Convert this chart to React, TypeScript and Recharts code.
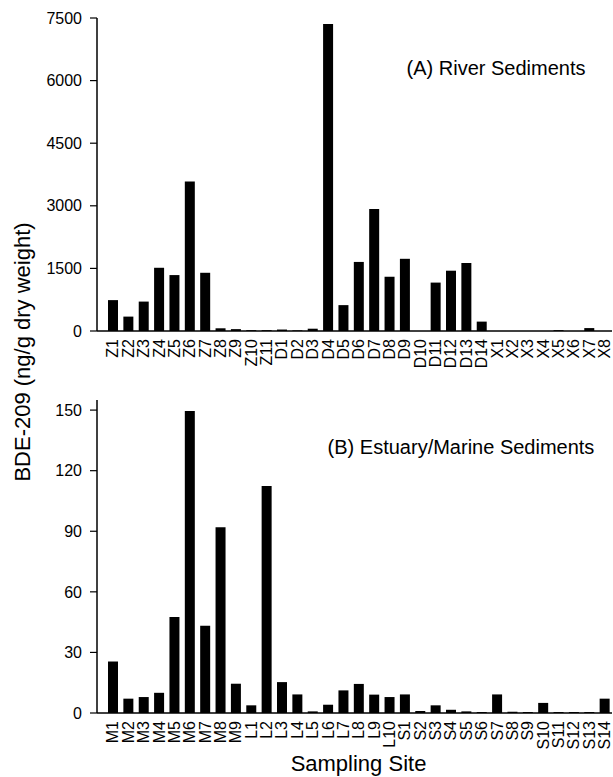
import { BarChart, Bar, XAxis, YAxis } from 'recharts'

const riverSites = [
  'Z1', 'Z2', 'Z3', 'Z4', 'Z5', 'Z6', 'Z7', 'Z8', 'Z9', 'Z10', 'Z11',
  'D1', 'D2', 'D3', 'D4', 'D5', 'D6', 'D7', 'D8', 'D9', 'D10', 'D11', 'D12', 'D13', 'D14',
  'X1', 'X2', 'X3', 'X4', 'X5', 'X6', 'X7', 'X8',
]
const riverValues = [
  740, 345, 705, 1515, 1340, 3580, 1395, 65, 45, 20, 20,
  35, 15, 55, 7355, 620, 1655, 2925, 1300, 1730, 0, 1160, 1445, 1630, 225,
  0, 0, 0, 0, 20, 0, 70, 0,
]
const riverTicks = [0, 1500, 3000, 4500, 6000, 7500]

const marineSites = [
  'M1', 'M2', 'M3', 'M4', 'M5', 'M6', 'M7', 'M8', 'M9',
  'L1', 'L2', 'L3', 'L4', 'L5', 'L6', 'L7', 'L8', 'L9', 'L10',
  'S1', 'S2', 'S3', 'S4', 'S5', 'S6', 'S7', 'S8', 'S9', 'S10', 'S11', 'S12', 'S13', 'S14',
]
const marineValues = [
  25.5, 7.1, 7.9, 10, 47.5, 149.5, 43.2, 92, 14.5,
  3.8, 112.4, 15.3, 9.2, 0.8, 4.1, 11.2, 14.4, 9.1, 7.9,
  9.2, 1, 3.8, 1.6, 0.8, 0.5, 9.2, 0.6, 0.5, 5, 0.5, 0.5, 0.5, 7.1,
]
const marineTicks = [0, 30, 60, 90, 120, 150]

const FONT = '"Liberation Sans", Arial, sans-serif'

const riverData = riverSites.map((site, i) => ({ site, value: riverValues[i] }))
const marineData = marineSites.map((site, i) => ({ site, value: marineValues[i] }))

function SiteTick(props: any) {
  const { x, y, payload } = props
  return (
    <g transform={`translate(${x},${y})`}>
      <text
        x={0}
        y={0}
        dy="0.36em"
        textAnchor="end"
        transform="rotate(-90)"
        fontSize={16}
        fill="#000"
        fontFamily={FONT}
      >
        {payload.value}
      </text>
    </g>
  )
}

interface PanelProps {
  data: { site: string; value: number }[]
  ticks: number[]
  max: number
  height: number
  top: number
  axisHeight: number
  xLabel?: string
}

function Panel({ data, ticks, max, height, top, axisHeight, xLabel }: PanelProps) {
  return (
    <BarChart width={613} height={height} data={data} margin={{ top, right: 1, bottom: 0, left: 0 }} barSize={10}>
      <XAxis
        dataKey="site"
        interval={0}
        height={axisHeight}
        padding={{ left: 8, right: 0 }}
        tickLine={false}
        axisLine={{ stroke: '#000', strokeWidth: 1.5 }}
        tick={<SiteTick />}
        tickMargin={2}
        label={
          xLabel
            ? { value: xLabel, position: 'insideBottom', offset: 6, dx: 4, fontSize: 22, fill: '#000', fontFamily: FONT }
            : undefined
        }
      />
      <XAxis
        xAxisId="top"
        dataKey="site"
        orientation="top"
        height={0}
        tick={false}
        tickLine={false}
        axisLine={{ stroke: '#000', strokeWidth: 1.5 }}
      />
      <YAxis
        width={97}
        domain={[0, max]}
        ticks={ticks}
        interval={0}
        tickSize={7}
        tickMargin={8}
        tickLine={{ stroke: '#000', strokeWidth: 1.2 }}
        axisLine={{ stroke: '#000', strokeWidth: 1.5 }}
        tick={{ fontSize: 16, fill: '#000', fontFamily: FONT }}
      />
      <YAxis
        yAxisId="right"
        orientation="right"
        width={0}
        domain={[0, max]}
        tick={false}
        tickLine={false}
        axisLine={{ stroke: '#000', strokeWidth: 1.5 }}
      />
      <Bar dataKey="value" fill="#000" isAnimationActive={false} />
    </BarChart>
  )
}

export default function App() {
  return (
    <div style={{ position: 'absolute', left: 0, top: 0, width: 613, height: 777, background: '#fff' }}>
      <Panel data={riverData} ticks={riverTicks} max={7500} height={390} top={18} axisHeight={59} />
      <div style={{ position: 'absolute', left: 0, top: 390 }}>
        <Panel
          data={marineData}
          ticks={marineTicks}
          max={155}
          height={387}
          top={10}
          axisHeight={64}
          xLabel="Sampling Site"
        />
      </div>
      <svg
        width={613}
        height={777}
        style={{ position: 'absolute', left: 0, top: 0, pointerEvents: 'none' }}
      >
        <text x={496} y={75} textAnchor="middle" fontSize={20} fontFamily={FONT} fill="#000">
          (A) River Sediments
        </text>
        <text x={461} y={454} textAnchor="middle" fontSize={20} fontFamily={FONT} fill="#000">
          (B) Estuary/Marine Sediments
        </text>
        <text
          x={0}
          y={0}
          transform="translate(30,352) rotate(-90)"
          textAnchor="middle"
          fontSize={22}
          fontFamily={FONT}
          fill="#000"
        >
          BDE-209 (ng/g dry weight)
        </text>
      </svg>
    </div>
  )
}
